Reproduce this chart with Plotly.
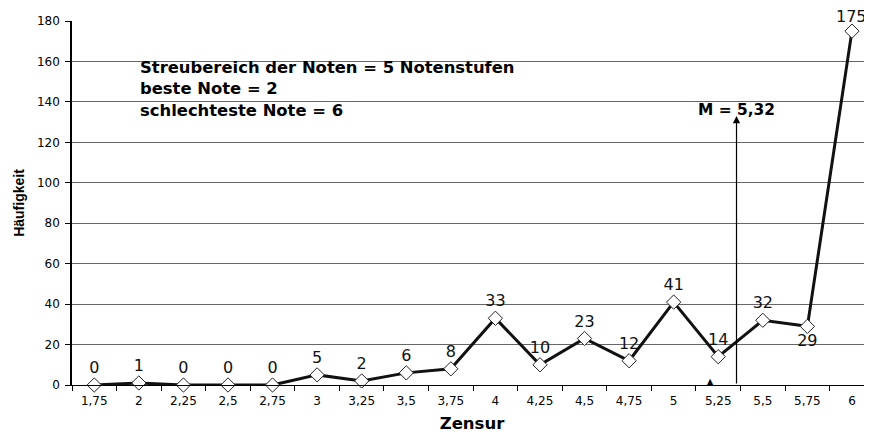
import plotly.graph_objects as go

categories = ["1,75", "2", "2,25", "2,5", "2,75", "3", "3,25", "3,5", "3,75",
              "4", "4,25", "4,5", "4,75", "5", "5,25", "5,5", "5,75", "6"]
counts = [0, 1, 0, 0, 0, 5, 2, 6, 8, 33, 10, 23, 12, 41, 14, 32, 29, 175]
label_pos = ["top center"] * len(counts)
label_pos[16] = "bottom center"

y_ticks = [0, 20, 40, 60, 80, 100, 120, 140, 160, 180]
info_lines = ["Streubereich der Noten = 5 Notenstufen", "beste Note = 2", "schlechteste Note = 6"]
mean_label = "M = 5,32"
mean_pos = 14.41  # position of the mean arrow on the category axis

FONT = "DejaVu Sans, sans-serif"
FONT2 = "Liberation Sans, Arial, sans-serif"

# the top point's label is drawn as an annotation so it can sit closer to its marker
point_text = [str(v) for v in counts]
point_text[-1] = ""

fig = go.Figure()
fig.add_trace(go.Scatter(
    x=categories, y=counts, mode="lines+markers+text",
    line=dict(color="#111111", width=3),
    marker=dict(symbol="diamond", size=11, color="white",
                line=dict(color="#222222", width=1)),
    text=point_text, textposition=label_pos,
    textfont=dict(family=FONT, size=16, color="#111111"),
    cliponaxis=False, showlegend=False,
))
fig.add_annotation(
    x=len(categories) - 1, y=counts[-1], xref="x", yref="y", text=str(counts[-1]),
    showarrow=False, yshift=15, xanchor="center", yanchor="middle",
    font=dict(family=FONT, size=16, color="#111111"),
)

fig.add_annotation(
    x=mean_pos, y=133, xref="x", yref="y",
    ax=mean_pos, ay=0, axref="x", ayref="y",
    showarrow=True, arrowhead=2, arrowsize=1.2, arrowwidth=1.2,
    arrowcolor="black", text="",
)
fig.add_annotation(
    x=mean_pos, y=136, xref="x", yref="y", text="<b>" + mean_label + "</b>",
    showarrow=False, font=dict(family=FONT, size=15.4, color="black"),
    xanchor="center", yanchor="middle",
)
fig.add_annotation(
    x=0.97, y=146.5, xref="x", yref="y",
    text="<br>".join("<b>" + s + "</b>" for s in info_lines),
    showarrow=False, align="left", xanchor="left", yanchor="middle",
    font=dict(family=FONT, size=16.4, color="black"),
)
fig.add_annotation(
    x=13.82, y=1.8, xref="x", yref="y", text="▲", showarrow=False,
    font=dict(family=FONT, size=8, color="black"),
)

fig.update_layout(
    width=872, height=435,
    margin=dict(l=64, r=8, t=13, b=58),
    plot_bgcolor="white", paper_bgcolor="white",
    font=dict(family=FONT, color="black"),
    xaxis=dict(
        type="category", range=[-0.5, 17.45], tickson="boundaries",
        ticks="outside", ticklen=5, tickcolor="black", automargin=False,
        ticklabelstandoff=5,
        showgrid=False, showline=True, linecolor="black", linewidth=1,
        tickfont=dict(family=FONT, size=12, color="black"),
        title=dict(text="<b>Zensur</b>", font=dict(family=FONT, size=16.5), standoff=10),
    ),
    yaxis=dict(
        range=[0, 180], tickvals=y_ticks, ticks="outside", ticklen=5,
        tickcolor="black", showgrid=True, gridcolor="#666666", gridwidth=1,
        showline=True, linecolor="black", linewidth=1.5, zeroline=False,
        automargin=False, ticklabelstandoff=3,
        tickfont=dict(family=FONT, size=12, color="black"),
        title=dict(text="<b>Häufigkeit</b>", font=dict(family=FONT2, size=14), standoff=9),
    ),
)

fig.write_html("out.html")
